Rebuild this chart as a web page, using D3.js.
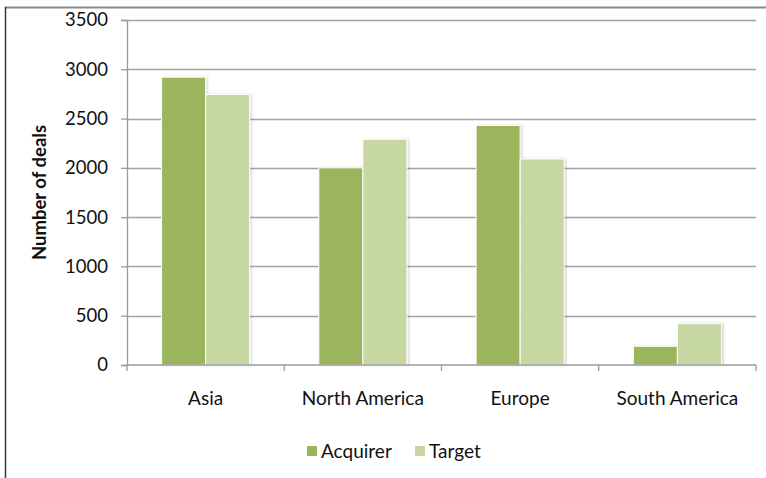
<!DOCTYPE html>
<html>
<head>
<meta charset="utf-8">
<script src="https://cdn.jsdelivr.net/npm/d3@7"></script>
<style>
  body { margin: 0; background: #fff; }
  svg { display: block; }
  text { font-family: Lato, "Open Sans", sans-serif; fill: #111; }
</style>
</head>
<body>
<div id="chart"></div>
<script>
const width = 766;
const height = 478;

// values
const categories = ['Asia', 'North America', 'Europe', 'South America'];
const series = ['Acquirer', 'Target'];
const acquirer = [2920, 2000, 2430, 190];
const target = [2745, 2290, 2090, 420];
const yTicks = [0, 500, 1000, 1500, 2000, 2500, 3000, 3500];

const colors = ['#9bb55c', '#c6d7a3'];

const plot = { left: 127, right: 756, top: 20, bottom: 365 };

const svg = d3.select('#chart')
    .append('svg')
    .attr('width', width)
    .attr('height', height);

const defs = svg.append('defs');
const shadow = defs.append('filter').attr('id', 'shadow')
    .attr('x', '-10%').attr('y', '-10%').attr('width', '130%').attr('height', '130%');
shadow.append('feDropShadow')
    .attr('dx', 1.5).attr('dy', 0).attr('stdDeviation', 1)
    .attr('flood-color', '#000').attr('flood-opacity', 0.18);

// frame (chart border, partly cropped)
svg.append('line')
    .attr('x1', 5).attr('x2', width).attr('y1', 7.5).attr('y2', 7.5)
    .attr('stroke', '#8a8a8a').attr('stroke-width', 2);
svg.append('line')
    .attr('x1', 5.5).attr('x2', 5.5).attr('y1', 7).attr('y2', height)
    .attr('stroke', '#3a3a3a').attr('stroke-width', 1.5);

const x0 = d3.scaleBand()
    .domain(categories)
    .range([plot.left, plot.right])
    .padding(0);

const x1 = d3.scaleBand()
    .domain(series)
    .range([x0.bandwidth() * 0.22, x0.bandwidth() * 0.78])
    .padding(0);

const y = d3.scaleLinear()
    .domain([0, 3500])
    .range([plot.bottom, plot.top]);

// gridlines
svg.append('g')
    .selectAll('line')
    .data(yTicks.filter(d => d > 0))
    .enter()
    .append('line')
    .attr('x1', plot.left).attr('x2', plot.right)
    .attr('y1', d => Math.round(y(d)) + 0.5)
    .attr('y2', d => Math.round(y(d)) + 0.5)
    .attr('stroke', '#a3a3a3')
    .attr('stroke-width', 1.3);

// bars
const rows = categories.map((c, i) => ({ category: c, values: [acquirer[i], target[i]] }));

svg.append('g')
    .selectAll('g')
    .data(rows)
    .enter()
    .append('g')
    .attr('transform', d => `translate(${x0(d.category)},0)`)
    .selectAll('rect')
    .data(d => d.values.map((v, j) => ({ key: series[j], value: v, j: j })))
    .enter()
    .append('rect')
    .attr('x', d => x1(d.key))
    .attr('width', x1.bandwidth())
    .attr('y', d => y(d.value))
    .attr('height', d => y(0) - y(d.value))
    .attr('fill', d => colors[d.j])
    .attr('stroke', '#fff')
    .attr('stroke-width', 1)
    .attr('filter', 'url(#shadow)');

// y axis
const yAxis = svg.append('g')
    .attr('transform', `translate(${plot.left},0)`)
    .call(d3.axisLeft(y).tickValues(yTicks).tickFormat(d3.format('d')).tickSize(6).tickPadding(13));
yAxis.select('.domain').attr('stroke', '#9a9a9a').attr('stroke-width', 1.3);
yAxis.selectAll('.tick line').attr('stroke', '#9a9a9a').attr('stroke-width', 1.3);
yAxis.selectAll('.tick text')
    .style('font-family', 'Lato, sans-serif')
    .style('font-size', '18.5px')
    .attr('fill', '#111');

// x axis: ticks on category boundaries
const xAxisG = svg.append('g')
    .attr('transform', `translate(0,${plot.bottom})`);
xAxisG.append('line')
    .attr('x1', plot.left).attr('x2', plot.right)
    .attr('stroke', '#9a9a9a').attr('stroke-width', 1.3);
const bounds = categories.map(c => x0(c)).concat([plot.right]);
xAxisG.selectAll('.b')
    .data(bounds)
    .enter()
    .append('line')
    .attr('x1', d => d).attr('x2', d => d)
    .attr('y1', 0).attr('y2', 6)
    .attr('stroke', '#9a9a9a').attr('stroke-width', 1.3);
xAxisG.selectAll('text')
    .data(categories)
    .enter()
    .append('text')
    .attr('x', d => x0(d) + x0.bandwidth() / 2)
    .attr('y', 40)
    .attr('text-anchor', 'middle')
    .style('font-size', '19px')
    .text(d => d);

// y axis title
svg.append('text')
    .attr('transform', `translate(46,${(plot.top + plot.bottom) / 2}) rotate(-90)`)
    .attr('text-anchor', 'middle')
    .style('font-size', '18.5px')
    .style('font-weight', 'bold')
    .text('Number of deals');

// legend
const legendX = [307, 415];
const legend = svg.append('g')
    .selectAll('g')
    .data(series)
    .enter()
    .append('g')
    .attr('transform', (d, i) => `translate(${legendX[i]},446)`);
legend.append('rect')
    .attr('width', 10).attr('height', 10)
    .attr('fill', (d, i) => colors[i]);
legend.append('text')
    .attr('x', 14).attr('y', 12)
    .style('font-size', '19px')
    .text(d => d);
</script>
</body>
</html>
